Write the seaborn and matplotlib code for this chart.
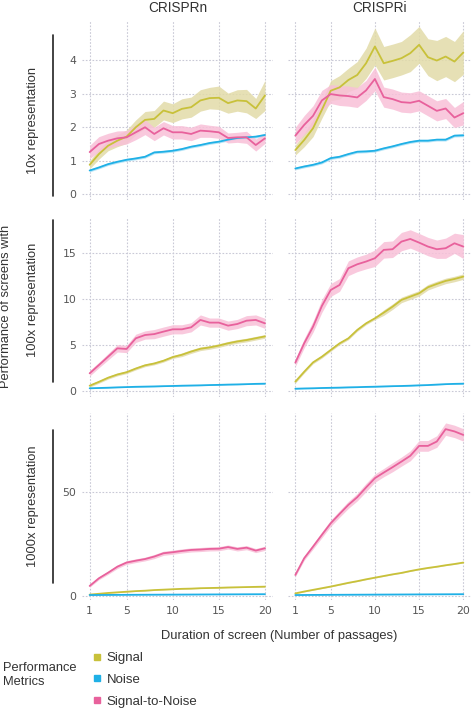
import numpy as np
import pandas as pd
import seaborn as sns
import matplotlib.pyplot as plt
from matplotlib.lines import Line2D

# Data (x = number of passages)
passages = list(range(1, 21))
screens = ['CRISPRn', 'CRISPRi']
reps = ['10x', '100x', '1000x']
metrics = ['Signal', 'Noise', 'Signal-to-Noise']

# 10x representation
n10_signal = [0.88, 1.2, 1.45, 1.6, 1.72, 2.0, 2.22, 2.25, 2.5, 2.42, 2.55, 2.6, 2.8, 2.87, 2.88, 2.72, 2.8, 2.78, 2.56, 2.95]
n10_noise = [0.71, 0.8, 0.9, 0.97, 1.03, 1.07, 1.12, 1.25, 1.27, 1.3, 1.35, 1.42, 1.47, 1.53, 1.57, 1.63, 1.68, 1.7, 1.72, 1.77]
n10_stn = [1.26, 1.5, 1.6, 1.67, 1.7, 1.85, 2.0, 1.8, 1.97, 1.85, 1.85, 1.8, 1.9, 1.88, 1.85, 1.68, 1.7, 1.7, 1.47, 1.67]
i10_signal = [1.32, 1.62, 1.97, 2.52, 3.09, 3.19, 3.41, 3.56, 3.91, 4.41, 3.91, 3.98, 4.06, 4.21, 4.46, 4.09, 3.99, 4.11, 3.96, 4.23]
i10_noise = [0.77, 0.83, 0.88, 0.95, 1.08, 1.12, 1.2, 1.27, 1.28, 1.3, 1.37, 1.43, 1.5, 1.56, 1.6, 1.6, 1.63, 1.63, 1.75, 1.76]
i10_stn = [1.75, 2.07, 2.34, 2.8, 2.99, 2.95, 2.93, 2.89, 3.1, 3.44, 2.9, 2.84, 2.75, 2.73, 2.79, 2.64, 2.49, 2.56, 2.29, 2.42]

# 100x representation
n100_signal = [0.58, 1.0, 1.45, 1.8, 2.05, 2.45, 2.8, 3.0, 3.3, 3.7, 3.95, 4.3, 4.6, 4.75, 4.95, 5.2, 5.4, 5.55, 5.75, 5.95]
n100_noise = [0.3, 0.33, 0.36, 0.4, 0.43, 0.46, 0.48, 0.5, 0.53, 0.55, 0.58, 0.6, 0.62, 0.65, 0.67, 0.7, 0.72, 0.75, 0.78, 0.8]
n100_stn = [1.93, 2.83, 3.74, 4.65, 4.58, 5.74, 6.1, 6.2, 6.47, 6.72, 6.72, 6.94, 7.74, 7.45, 7.45, 7.12, 7.3, 7.66, 7.74, 7.37]
i100_signal = [1.02, 2.1, 3.12, 3.74, 4.47, 5.19, 5.74, 6.65, 7.37, 7.92, 8.54, 9.19, 9.92, 10.28, 10.64, 11.3, 11.66, 11.99, 12.2, 12.46]
i100_noise = [0.25, 0.28, 0.3, 0.33, 0.35, 0.37, 0.4, 0.42, 0.45, 0.47, 0.5, 0.53, 0.55, 0.58, 0.62, 0.65, 0.7, 0.75, 0.78, 0.8]
i100_stn = [3.09, 5.2, 7.0, 9.26, 11.0, 11.55, 13.37, 13.8, 14.1, 14.46, 15.37, 15.44, 16.27, 16.56, 16.16, 15.73, 15.44, 15.55, 16.09, 15.73]

# 1000x representation
n1000_signal = [0.5, 0.9, 1.3, 1.6, 1.9, 2.2, 2.4, 2.7, 2.9, 3.1, 3.3, 3.4, 3.6, 3.7, 3.8, 3.95, 4.05, 4.15, 4.25, 4.35]
n1000_noise = [0.3, 0.32, 0.35, 0.37, 0.4, 0.42, 0.44, 0.46, 0.48, 0.5, 0.52, 0.54, 0.56, 0.58, 0.6, 0.62, 0.64, 0.66, 0.68, 0.7]
n1000_stn = [4.7, 8.4, 11.1, 14.0, 16.0, 16.9, 17.7, 18.9, 20.5, 21.0, 21.6, 22.1, 22.3, 22.6, 22.7, 23.5, 22.6, 23.2, 21.8, 22.9]
i1000_signal = [1.1, 2.0, 2.8, 3.6, 4.4, 5.3, 6.2, 7.0, 7.9, 8.7, 9.5, 10.3, 11.0, 11.9, 12.7, 13.4, 14.0, 14.7, 15.3, 16.0]
i1000_noise = [0.3, 0.32, 0.35, 0.37, 0.4, 0.42, 0.44, 0.46, 0.48, 0.5, 0.52, 0.54, 0.56, 0.58, 0.6, 0.62, 0.64, 0.66, 0.68, 0.7]
i1000_stn = [10.0, 18.1, 23.7, 29.4, 35.0, 39.5, 43.9, 47.6, 52.3, 56.8, 59.5, 62.1, 64.8, 67.6, 72.4, 72.4, 74.5, 80.5, 79.4, 77.7]

# half widths of the shaded bands
n10_signal_ci = [0.12, 0.15, 0.15, 0.18, 0.2, 0.22, 0.25, 0.25, 0.28, 0.28, 0.3, 0.3, 0.32, 0.32, 0.35, 0.3, 0.32, 0.35, 0.3, 0.45]
i10_signal_ci = [0.15, 0.2, 0.25, 0.25, 0.3, 0.35, 0.35, 0.4, 0.45, 0.55, 0.5, 0.5, 0.5, 0.55, 0.55, 0.55, 0.6, 0.6, 0.6, 0.65]
n10_stn_ci = [0.2, 0.22, 0.22, 0.22, 0.2, 0.22, 0.22, 0.2, 0.2, 0.2, 0.2, 0.2, 0.2, 0.18, 0.18, 0.15, 0.15, 0.18, 0.18, 0.15]
i10_stn_ci = [0.25, 0.28, 0.3, 0.3, 0.28, 0.3, 0.3, 0.3, 0.3, 0.35, 0.3, 0.3, 0.3, 0.3, 0.3, 0.3, 0.3, 0.3, 0.3, 0.35]
noise_ci = [0.04] * 20
n100_signal_ci = [0.15] * 10 + [0.2] * 10
i100_signal_ci = [0.15] * 10 + [0.3] * 10
n100_stn_ci = [0.3, 0.3, 0.35, 0.4, 0.4, 0.45, 0.45, 0.5, 0.5, 0.5, 0.5, 0.5, 0.55, 0.5, 0.5, 0.5, 0.5, 0.55, 0.55, 0.55]
i100_stn_ci = [0.4, 0.5, 0.6, 0.7, 0.7, 0.7, 0.8, 0.8, 0.8, 0.9, 0.9, 0.9, 1.0, 1.0, 1.0, 1.0, 1.0, 1.1, 1.1, 1.3]
n1000_signal_ci = [0.15] * 20
i1000_signal_ci = [0.2] * 20
n1000_stn_ci = [0.6, 0.7, 0.8, 0.9, 0.9, 0.9, 0.9, 1.0, 1.0, 1.0, 1.0, 1.0, 1.0, 1.0, 1.0, 1.0, 1.0, 1.0, 1.0, 1.0]
i1000_stn_ci = [0.8, 1.0, 1.2, 1.4, 1.5, 1.6, 1.7, 1.8, 2.0, 2.0, 2.0, 2.2, 2.2, 2.4, 2.6, 2.6, 2.8, 3.0, 3.0, 3.0]

panels = {
    ('10x', 'CRISPRn'): [(n10_signal, n10_signal_ci), (n10_noise, noise_ci), (n10_stn, n10_stn_ci)],
    ('10x', 'CRISPRi'): [(i10_signal, i10_signal_ci), (i10_noise, noise_ci), (i10_stn, i10_stn_ci)],
    ('100x', 'CRISPRn'): [(n100_signal, n100_signal_ci), (n100_noise, noise_ci), (n100_stn, n100_stn_ci)],
    ('100x', 'CRISPRi'): [(i100_signal, i100_signal_ci), (i100_noise, noise_ci), (i100_stn, i100_stn_ci)],
    ('1000x', 'CRISPRn'): [(n1000_signal, n1000_signal_ci), (n1000_noise, noise_ci), (n1000_stn, n1000_stn_ci)],
    ('1000x', 'CRISPRi'): [(i1000_signal, i1000_signal_ci), (i1000_noise, noise_ci), (i1000_stn, i1000_stn_ci)],
}

rows = []
for (rep, screen), series in panels.items():
    for metric, (vals, ci) in zip(metrics, series):
        for p, v, c in zip(passages, vals, ci):
            rows.append(dict(rep=rep, screen=screen, metric=metric, passage=p, value=v, lo=v - c, hi=v + c))
df = pd.DataFrame(rows)

line_colors = {'Signal': '#c8c13a', 'Noise': '#1fb0e6', 'Signal-to-Noise': '#e8619c'}
band_colors = {'Signal': '#e2dba8', 'Noise': '#a8e0f6', 'Signal-to-Noise': '#f8c0d8'}

sns.set_style('white')
plt.rcParams['font.family'] = ['Liberation Sans', 'DejaVu Sans']

fig = plt.figure(figsize=(4.71, 7.10), dpi=100)
W, H = 471, 710
txt = '#333333'

col_x = {'CRISPRn': (82, 191), 'CRISPRi': (288, 183)}
row_y = {'10x': (20, 200), '100x': (217, 397), '1000x': (413, 600)}
ylims = {'10x': (-0.17, 5.2), '100x': (-0.65, 18.95), '1000x': (-2.1, 88.3)}
yticks = {'10x': [0, 1, 2, 3, 4], '100x': [0, 5, 10, 15], '1000x': [0, 50]}

for rep in reps:
    for screen in screens:
        x0, w = col_x[screen]
        top, bot = row_y[rep]
        ax = fig.add_axes([x0 / W, 1 - bot / H, w / W, (bot - top) / H])
        sub = df[(df.rep == rep) & (df.screen == screen)]
        for metric in metrics:
            d = sub[sub.metric == metric]
            ax.fill_between(d.passage, d.lo, d.hi, color=band_colors[metric], lw=0, alpha=0.85)
        sns.lineplot(data=sub, x='passage', y='value', hue='metric', palette=line_colors,
                     hue_order=metrics, lw=1.3, legend=False, ax=ax, errorbar=None)
        ax.set_xlim(0.17, 20.87)
        ax.set_ylim(*ylims[rep])
        ax.set_xticks([1, 5, 10, 15, 20])
        ax.set_yticks(yticks[rep])
        ax.grid(True, color='#c9c9d6', ls=(0, (1.5, 1.5)), lw=0.8)
        ax.set_axisbelow(True)
        for s in ax.spines.values():
            s.set_visible(False)
        ax.tick_params(length=0, labelsize=7.8, colors='#555555', pad=4)
        for t in ax.get_xticklabels() + ax.get_yticklabels():
            t.set_family('DejaVu Sans')
        ax.set_xlabel('')
        ax.set_ylabel('')
        if screen == 'CRISPRi':
            ax.set_yticklabels([])
        if rep != '1000x':
            ax.set_xticklabels([])
        if rep == '10x':
            ax.set_title(screen, fontsize=9.8, color=txt, pad=6)

# row labels and the black bars beside them
fs = 9.3
fig.text(33 / W, 1 - 120 / H, '10x representation', rotation=90, ha='center', va='center', fontsize=fs, color=txt)
fig.text(6.5 / W, 1 - 306 / H, 'Performance of screens with', rotation=90, ha='center', va='center', fontsize=fs, color=txt)
fig.text(33 / W, 1 - 300 / H, '100x representation', rotation=90, ha='center', va='center', fontsize=fs, color=txt)
fig.text(33 / W, 1 - 506 / H, '1000x representation', rotation=90, ha='center', va='center', fontsize=fs, color=txt)
for a, b in [(35, 196), (220, 382), (430, 583)]:
    fig.add_artist(Line2D([52.7 / W, 52.7 / W], [1 - a / H, 1 - b / H], color='#222222', lw=1.2))

fig.text(279 / W, 1 - 636 / H, 'Duration of screen (Number of passages)', ha='center', va='center', fontsize=fs, color=txt)

fig.text(3 / W, 1 - 675 / H, 'Performance\nMetrics', ha='left', va='center', fontsize=fs, color=txt, linespacing=1.3)
handles = [Line2D([], [], marker='s', ls='none', ms=5, color=line_colors[m]) for m in metrics]
fig.legend(handles, metrics, loc='upper left', bbox_to_anchor=(92 / W, 1 - 652 / H), frameon=False,
           fontsize=9.5, labelspacing=0.72, handlelength=0.8, handletextpad=0.3, borderpad=0, borderaxespad=0,
           labelcolor=txt)

fig.savefig('out.png', dpi=100)
